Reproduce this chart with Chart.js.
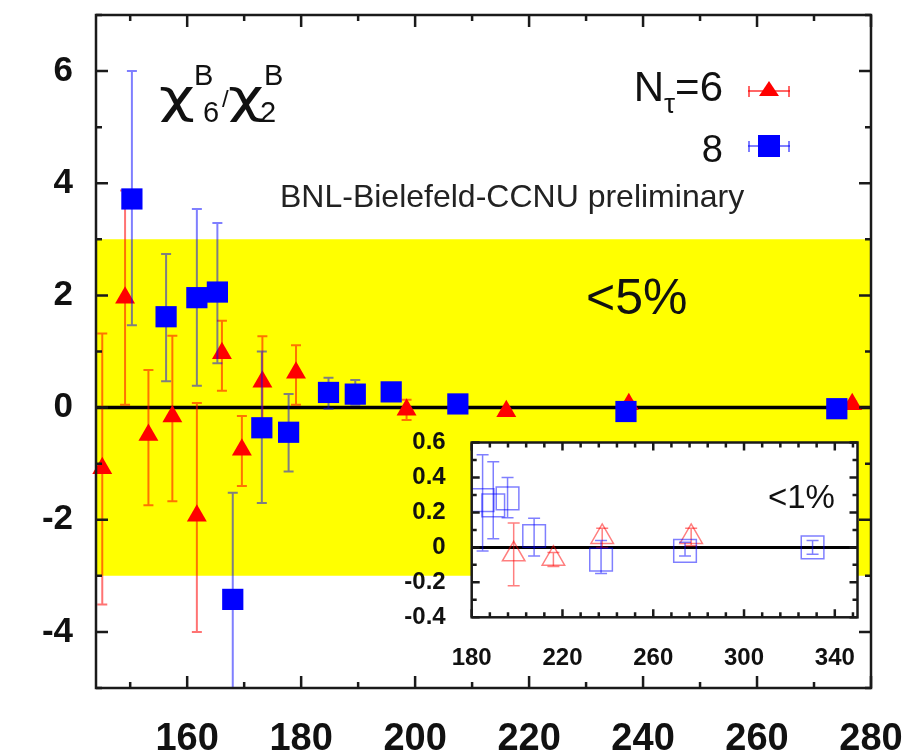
<!DOCTYPE html>
<html><head><meta charset="utf-8">
<script src="https://cdn.jsdelivr.net/npm/chart.js@4.4.1/dist/chart.umd.min.js"></script>
<style>
html,body{margin:0;padding:0;background:#fff;overflow:hidden}
#wrap{position:relative;width:916px;height:753px}
canvas{position:absolute}
#main{left:0;top:0}
#inset{left:385px;top:425px}
.t{position:absolute;font-family:"Liberation Sans",Arial,Helvetica,sans-serif;color:#111;white-space:nowrap;line-height:1}
.c{position:absolute;font-family:"DejaVu Sans",sans-serif;color:#111;white-space:nowrap;line-height:1}
.s{position:absolute}
</style></head><body>
<div id="wrap">
<canvas id="main" width="916" height="753"></canvas>
<canvas id="inset" width="490" height="255"></canvas>

<div class="c" style="left:159px;top:73px;font-size:46px;transform:scaleX(1.35);transform-origin:left">χ</div>
<div class="t" style="left:194px;top:61px;font-size:29px">B</div>
<div class="t" style="left:203px;top:98px;font-size:29px">6</div>
<div class="t" style="left:222px;top:87px;font-size:24px">/</div>
<div class="c" style="left:228px;top:73px;font-size:46px;transform:scaleX(1.35);transform-origin:left">χ</div>
<div class="t" style="left:264px;top:61px;font-size:29px">B</div>
<div class="t" style="left:260px;top:98px;font-size:29px">2</div>

<div class="t" style="right:193px;top:66px;font-size:42px">N<span style="font-size:28px;position:relative;top:12px">τ</span>=6</div>
<div class="t" style="right:193px;top:130px;font-size:38px">8</div>

<div class="s" style="left:748px;top:90px;width:42px;height:2px;background:rgba(255,0,0,0.6)"></div>
<div class="s" style="left:748px;top:86px;width:2px;height:11px;background:rgba(255,0,0,0.6)"></div>
<div class="s" style="left:788px;top:86px;width:2px;height:11px;background:rgba(255,0,0,0.6)"></div>
<div class="s" style="left:759px;top:81px;width:0;height:0;border-left:10px solid transparent;border-right:10px solid transparent;border-bottom:15px solid #ff0000"></div>

<div class="s" style="left:748px;top:145px;width:42px;height:2px;background:rgba(0,0,255,0.5)"></div>
<div class="s" style="left:748px;top:141px;width:2px;height:11px;background:rgba(0,0,255,0.5)"></div>
<div class="s" style="left:788px;top:141px;width:2px;height:11px;background:rgba(0,0,255,0.5)"></div>
<div class="s" style="left:758px;top:135px;width:22px;height:22px;background:#0000ff"></div>

<div class="t" style="left:280px;top:180px;font-size:32px;color:#222">BNL-Bielefeld-CCNU preliminary</div>
<div class="t" style="left:586px;top:272px;font-size:50px">&lt;5%</div>
<div class="t" style="left:768px;top:480px;font-size:33px">&lt;1%</div>
</div>
<script>
// ---------------- data ----------------
// Nτ=6 (red triangles): temperature, value, lower and upper error limits
const T6  = [145.1, 149.1, 153.2, 157.4, 161.7, 166.1, 169.6, 173.2, 179.1, 198.5, 216.0, 237.5, 276.7];
const V6  = [-1.08,  1.96, -0.49, -0.16, -1.93,  0.97, -0.75,  0.46,  0.62, -0.04, -0.065, 0.06,  0.06];
const LO6 = [-3.51,  0.05, -1.74, -1.67, -4.00,  0.30, -1.40, -0.43,  0.05, -0.22, -0.11,  0.00,  0.01];
const HI6 = [ 1.32,  3.87,  0.67,  1.28,  0.08,  1.55, -0.15,  1.27,  1.11,  0.14, -0.03,  0.11,  0.11];
// Nτ=8 (blue squares)
const T8  = [150.3, 156.3, 161.7, 165.3, 168.0, 173.1, 177.8, 184.8, 189.5, 195.8, 207.5, 237.0, 274.0, 330.2];
const V8  = [ 3.72,  1.62,  1.96,  2.06, -3.42, -0.36, -0.44,  0.27,  0.24,  0.28,  0.065, -0.07, -0.02, 0.00];
const LO8 = [ 1.47,  0.47,  0.39,  0.79, -6.50, -1.70, -1.14, -0.02,  0.05,  0.17, -0.05, -0.15, -0.05, -0.04];
const HI8 = [ 6.00,  2.74,  3.54,  3.29, -1.52,  1.00,  0.24,  0.53,  0.49,  0.40,  0.167, 0.04,  0.03,  0.04];

// main axes
const X_MIN = 144, X_MAX = 280, Y_MIN = -5, Y_MAX = 7;
const X_TICKS = [160, 180, 200, 220, 240, 260, 280];
const X_MINOR = [150, 170, 190, 210, 230, 250, 270];
const Y_TICKS = [-4, -2, 0, 2, 4, 6];
const Y_MINOR = [-5, -3, -1, 1, 3, 5, 7];
const BAND = [-3, 3];          // <5% band

// inset axes
const IX_MIN = 180, IX_MAX = 350, IY_MIN = -0.4, IY_MAX = 0.6;
const IX_TICKS = [180, 220, 260, 300, 340];
const IX_MINOR = [188,196,204,212,228,236,244,252,268,276,284,292,308,316,324,332,348];
const IY_TICKS = [-0.4, -0.2, 0, 0.2, 0.4, 0.6];
const IY_MINOR = [-0.3, -0.1, 0.1, 0.3, 0.5];

// ---------------- helpers ----------------
Chart.defaults.font.family = "'Liberation Sans', Arial, Helvetica, sans-serif";
Chart.defaults.color = '#111';

const pts = (T, V) => T.map((t, i) => ({x: t, y: V[i]}));
function subset(T, V, L, H, lo, hi) {
  const idx = T.map((t, i) => i).filter(i => T[i] >= lo && T[i] <= hi);
  return {
    data: idx.map(i => ({x: T[i], y: V[i]})),
    lo: idx.map(i => L[i]),
    hi: idx.map(i => H[i])
  };
}

const errorBars = {
  id: 'errorBars',
  beforeDatasetDraw(chart, args) {
    const ds = chart.data.datasets[args.index];
    if (!ds.errLo) return;
    const {ctx, chartArea: a, scales} = chart;
    const xs = scales.x, ys = scales.y;
    ctx.save();
    ctx.beginPath();
    ctx.rect(a.left, a.top, a.right - a.left, a.bottom - a.top);
    ctx.clip();
    ctx.strokeStyle = ds.errColor;
    ctx.lineWidth = ds.errWidth;
    ctx.beginPath();
    ds.data.forEach((p, i) => {
      const x = xs.getPixelForValue(p.x);
      const y1 = ys.getPixelForValue(ds.errLo[i]);
      const y2 = ys.getPixelForValue(ds.errHi[i]);
      const c = ds.capHalf;
      ctx.moveTo(x, y1); ctx.lineTo(x, y2);
      ctx.moveTo(x - c, y1); ctx.lineTo(x + c, y1);
      ctx.moveTo(x - c, y2); ctx.lineTo(x + c, y2);
    });
    ctx.stroke();
    ctx.restore();
  }
};

const frame = {
  id: 'frame',
  beforeDraw(chart, args, o) {
    if (!o.fill) return;
    const {ctx, chartArea: a} = chart;
    ctx.save();
    ctx.fillStyle = o.fill;
    ctx.fillRect(a.left, a.top, a.right - a.left, a.bottom - a.top);
    ctx.restore();
  },
  afterDraw(chart, args, o) {
    const {ctx, chartArea: a, scales: {x, y}} = chart;
    ctx.save();
    ctx.strokeStyle = '#1a1a1a';
    ctx.lineWidth = o.width;
    ctx.beginPath();
    const xt = (vals, len) => vals.forEach(v => {
      const p = x.getPixelForValue(v);
      ctx.moveTo(p, a.bottom); ctx.lineTo(p, a.bottom - len);
      ctx.moveTo(p, a.top); ctx.lineTo(p, a.top + len);
    });
    const yt = (vals, len) => vals.forEach(v => {
      const p = y.getPixelForValue(v);
      ctx.moveTo(a.left, p); ctx.lineTo(a.left + len, p);
      ctx.moveTo(a.right, p); ctx.lineTo(a.right - len, p);
    });
    xt(o.xMajor, o.major); xt(o.xMinor, o.minor);
    yt(o.yMajor, o.major); yt(o.yMinor, o.minor);
    ctx.stroke();
    ctx.strokeRect(a.left, a.top, a.right - a.left, a.bottom - a.top);
    ctx.restore();
  }
};

const fixedTicks = arr => (scale) => { scale.ticks = arr.map(v => ({value: v})); };
const fitTo = (prop, size) => (s) => {
  s[prop] = size;
  s.paddingTop = 0; s.paddingBottom = 0; s.paddingLeft = 0; s.paddingRight = 0;
};

// ---------------- main chart ----------------
new Chart(document.getElementById('main'), {
  type: 'scatter',
  data: {
    datasets: [
      { // markers Nτ=6
        type: 'scatter', label: 'Nτ=6', data: pts(T6, V6),
        errLo: LO6, errHi: HI6, errColor: 'rgba(255,0,0,0.55)', errWidth: 2, capHalf: 5,
        pointStyle: 'triangle', pointRadius: 11.5, pointBackgroundColor: '#ff0000',
        pointBorderColor: '#ff0000', pointBorderWidth: 0, clip: false, order: 1
      },
      { // markers Nτ=8
        type: 'scatter', label: '8', data: pts(T8, V8),
        errLo: LO8, errHi: HI8, errColor: 'rgba(0,0,255,0.5)', errWidth: 2, capHalf: 5,
        pointStyle: 'rect', pointRadius: 15, pointBackgroundColor: '#0000ff',
        pointBorderColor: '#0000ff', pointBorderWidth: 0, clip: false, order: 0
      },
      { // zero line
        type: 'line', data: [{x: X_MIN, y: 0}, {x: X_MAX, y: 0}],
        borderColor: '#000', borderWidth: 3.5, pointRadius: 0, fill: false, order: 5
      },
      { // <5% band
        type: 'line', data: [{x: X_MIN, y: BAND[1]}, {x: X_MAX, y: BAND[1]}],
        borderWidth: 0, borderColor: 'rgba(0,0,0,0)', pointRadius: 0,
        fill: {value: BAND[0]}, backgroundColor: '#ffff00', order: 10
      }
    ]
  },
  options: {
    responsive: false, animation: false, events: [],
    layout: {padding: {top: 12, right: 45, left: 0, bottom: 0}},
    plugins: {
      legend: {display: false}, tooltip: {enabled: false},
      frame: {width: 2.5, major: 12, minor: 6, xMajor: X_TICKS, xMinor: X_MINOR, yMajor: Y_TICKS, yMinor: Y_MINOR}
    },
    scales: {
      x: {
        type: 'linear', min: X_MIN, max: X_MAX,
        afterBuildTicks: fixedTicks(X_TICKS),
        afterFit: fitTo('height', 65),
        grid: {display: false, drawTicks: false}, border: {display: false},
        ticks: {padding: 29, font: {size: 38, weight: 'bold'}, color: '#111', maxRotation: 0, autoSkip: false}
      },
      y: {
        type: 'linear', min: Y_MIN, max: Y_MAX,
        afterBuildTicks: fixedTicks(Y_TICKS),
        afterFit: fitTo('width', 96),
        grid: {display: false, drawTicks: false}, border: {display: false},
        ticks: {padding: 23, font: {size: 35, weight: 'bold'}, color: '#111', autoSkip: false}
      }
    }
  },
  plugins: [errorBars, frame]
});

// ---------------- inset chart ----------------
const i6 = subset(T6, V6, LO6, HI6, IX_MIN, IX_MAX);
const i8 = subset(T8, V8, LO8, HI8, IX_MIN, IX_MAX);

new Chart(document.getElementById('inset'), {
  type: 'scatter',
  data: {
    datasets: [
      {
        type: 'scatter', data: i6.data, errLo: i6.lo, errHi: i6.hi,
        errColor: 'rgba(255,0,0,0.5)', errWidth: 1.5, capHalf: 6,
        pointStyle: 'triangle', pointRadius: 13, pointBackgroundColor: 'rgba(0,0,0,0)',
        pointBorderColor: 'rgba(255,0,0,0.5)', pointBorderWidth: 1.5, order: 1
      },
      {
        type: 'scatter', data: i8.data, errLo: i8.lo, errHi: i8.hi,
        errColor: 'rgba(0,0,255,0.5)', errWidth: 1.5, capHalf: 6,
        pointStyle: 'rect', pointRadius: 16, pointBackgroundColor: 'rgba(0,0,0,0)',
        pointBorderColor: 'rgba(0,0,255,0.5)', pointBorderWidth: 1.5, order: 0
      },
      {
        type: 'line', data: [{x: IX_MIN, y: 0}, {x: IX_MAX, y: 0}],
        borderColor: '#000', borderWidth: 3, pointRadius: 0, fill: false, order: 5
      }
    ]
  },
  options: {
    responsive: false, animation: false, events: [],
    layout: {padding: {top: 10, right: 16.7, left: 0, bottom: 0}},
    plugins: {
      legend: {display: false}, tooltip: {enabled: false},
      frame: {fill: '#ffffff', width: 2.5, major: 8, minor: 5, xMajor: IX_TICKS, xMinor: IX_MINOR, yMajor: IY_TICKS, yMinor: IY_MINOR}
    },
    scales: {
      x: {
        type: 'linear', min: IX_MIN, max: IX_MAX,
        afterBuildTicks: fixedTicks(IX_TICKS),
        afterFit: fitTo('height', 62.7),
        grid: {display: false, drawTicks: false}, border: {display: false},
        ticks: {padding: 27, font: {size: 24, weight: 'bold'}, color: '#111', maxRotation: 0, autoSkip: false}
      },
      y: {
        type: 'linear', min: IY_MIN, max: IY_MAX,
        afterBuildTicks: fixedTicks(IY_TICKS),
        afterFit: fitTo('width', 86.7),
        grid: {display: false, drawTicks: false}, border: {display: false},
        ticks: {padding: 26, font: {size: 24, weight: 'bold'}, color: '#111', autoSkip: false,
          callback: v => (Math.round(v * 10) / 10).toString()}
      }
    }
  },
  plugins: [errorBars, frame]
});
</script>
</body></html>
